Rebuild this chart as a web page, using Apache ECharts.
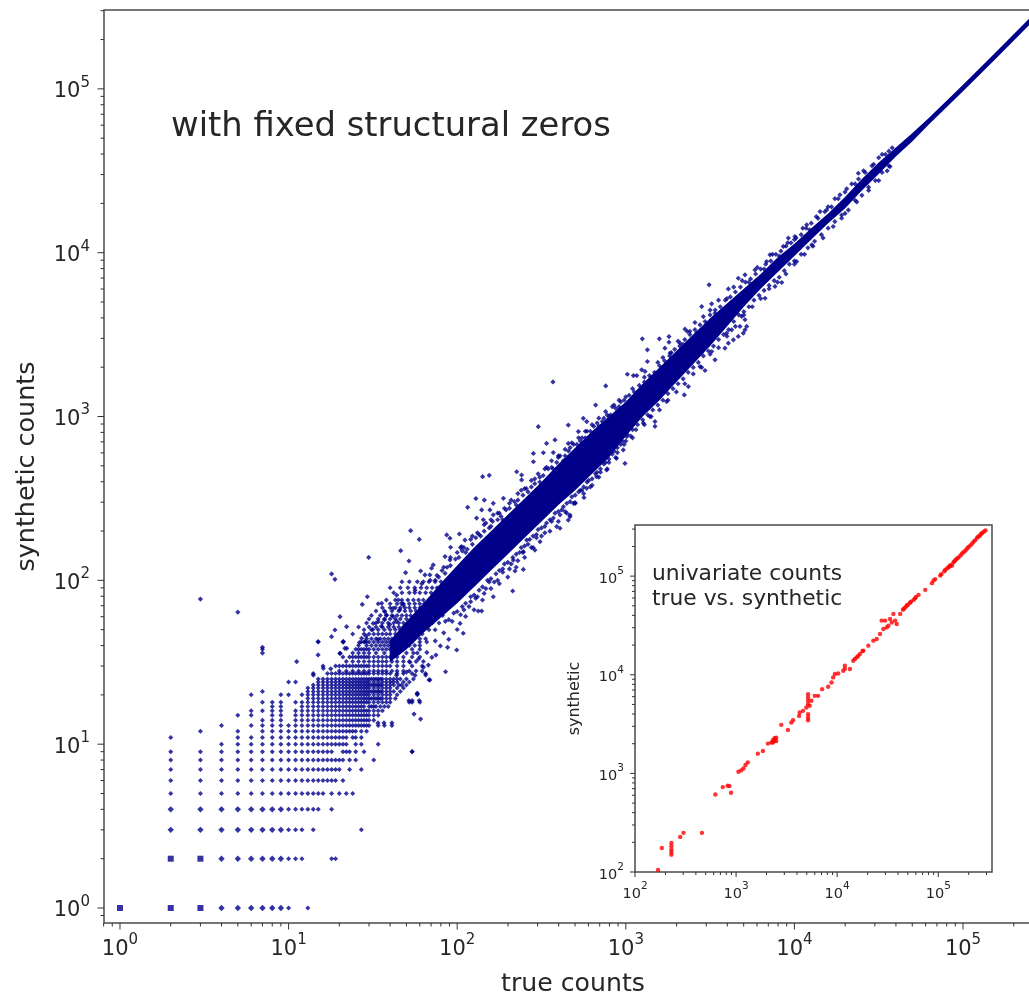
<!DOCTYPE html>
<html><head><meta charset="utf-8">
<script src="https://cdn.jsdelivr.net/npm/echarts@6/dist/echarts.min.js"></script>
<style>html,body{margin:0;padding:0;background:#fff;overflow:hidden}#c{width:1029px;height:1000px;filter:blur(0.42px)}</style>
</head><body><div id="c"></div>
<script>
// integer lattice of low counts: [synthetic count, [true counts]]
const heavyCells=[[1,1],[2,1],[3,1],[2,2],[3,2]];
const latticeRows=[
[1,[4,5,6,7,8,9,10,13]],
[2,[4,5,6,7,8,9,10,11,12,18,19]],
[3,[2,3,4,5,6,7,8,9,10,11,12,14,27]],
[4,[2,3,4,5,6,7,8,9,10,11,12,13,14,15,18]],
[5,[2,3,4,5,6,7,8,9,10,11,12,13,14,15,16,18,20,22,24]],
[6,[2,3,4,5,6,7,8,9,10,11,12,13,14,15,16,17,18,19,21]],
[7,[2,3,4,5,6,7,8,9,10,11,12,13,14,15,16,17,18,19,20,23,27]],
[8,[2,3,4,5,6,7,8,9,10,11,12,13,14,15,16,17,18,19,20,21,23,25,32]],
[9,[2,3,4,5,6,7,8,9,10,11,12,13,14,15,16,17,18,21,22,23,25,28,54]],
[10,[4,5,6,7,8,9,10,11,12,13,14,15,16,17,18,19,20,21,22,25,27,34]],
[11,[2,5,6,7,8,9,10,11,12,13,14,15,16,17,18,19,20,21,22,24,25,27]],
[12,[3,5,7,8,9,10,11,12,13,14,15,16,17,18,19,20,21,22,23,24,25,27,29]],
[13,[4,6,7,8,9,10,11,12,13,14,15,16,17,18,19,20,21,22,23,24,25,26,27,28,29,30,34,37,41]],
[14,[7,8,9,11,12,13,14,15,16,17,18,19,20,21,22,23,24,25,26,27,28,29,30,32]],
[15,[5,6,8,9,11,12,13,14,15,16,17,18,19,20,21,22,23,24,25,26,27,28,29,30,32,34]],
[16,[6,7,8,9,11,12,13,14,15,16,17,18,19,20,21,22,23,24,25,26,27,28,29,30,32,34,36]],
[17,[8,9,12,13,14,15,16,17,18,19,20,21,22,23,24,25,26,27,28,30,31,32,33,35,37,39]],
[18,[7,8,9,11,12,13,14,15,16,17,18,19,20,21,22,23,24,25,26,27,28,29,30,32,34,36,38,40,52,54,60]],
[19,[13,14,15,16,17,18,19,20,21,22,23,24,25,26,27,28,29,30,31,32,33,34,35,36,38,40,43]],
[20,[6,9,10,12,13,14,15,16,17,18,19,20,21,22,23,24,25,26,27,28,29,30,32,34,36,38,40,44,58]],
[21,[7,13,14,15,16,17,18,19,20,21,22,23,24,25,26,27,28,29,30,31,32,33,34,35,36,38,40,42,46]],
[22,[13,14,15,16,17,18,19,20,21,22,23,24,25,26,27,28,29,30,32,34,36,38,40,44,48]],
[23,[14,15,16,17,18,19,20,21,22,23,24,25,26,27,28,29,30,31,32,33,34,35,36,38,40,42,45,50]],
[24,[10,11,15,16,17,18,19,20,21,22,23,24,25,26,27,28,29,30,32,34,36,38,40,44,48,52]],
[25,[15,16,17,18,19,20,21,22,23,24,25,26,27,28,29,30,31,32,33,34,35,36,38,40,42,44,46,50,55]],
[27,[14,17,18,19,20,21,22,23,24,25,26,27,28,29,30,32,34,36,38,40,44,48,54,65]],
[28,[20,22,24,26,28,30,32,34,36,38,41,44,48,52,57,62]],
[30,[16,19,20,21,22,23,24,25,26,27,28,29,30,32,34,36,38,40,44,48,54,62]],
[32,[22,24,26,28,30,32,34,36,38,41,44,48,52,57,63]],
[34,[21,23,24,25,26,27,28,29,30,32,34,36,38,40,44,48,54,60]],
[36,[24,26,28,30,33,37,41,45,50,55,58]],
[38,[7,25,26,27,28,29,30,32,34,36,38,40,44,48,54,60]],
[40,[26,29,31,33,35,37,39,41,43,46,49,52,56,60]],
[42,[15,21,27,28,29,30,32,34,36,38,40,44,48,54,60,66]],
[44,[29,31,33,35,37,39,41,43,46,49,52,56,60,65]],
[47,[24,28,30,32,34,36,38,40,43,46,50,54,58,62]],
[50,[28,31,34,37,40,43,46,49,52,55,59,63,68,74]],
[52,[26,30,33,36,39,42,45,48,52,56,60,65]],
[55,[29,33,36,39,42,45,48,51,54,58,62,66,71,78]],
[58,[30,34,37,40,43,46,50,54,58,63,68]],
[61,[31,35,38,41,44,47,50,53,57,61,65,70,75,82]],
[65,[33,37,41,45,49,53,57,62,67,72]],
[68,[36,40,43,46,49,52,56,60,64,69,74,80,87]],
[72,[34,40,44,48,52,56,60,64,69,74,79,85]],
[76,[38,43,47,51,55,59,63,68,73,78,84,91]],
[84,[42,47,52,56,60,65,70,75,80,86,92,100]],
[90,[40,46,51,56,61,66,71,76,82,88,95,103]],
[98,[47,52,58,63,68,74,80,86,92,100,108]]
];
// solid core of the band, log10 values: true, upper synthetic, lower synthetic
const coreTrue=[1.6,1.7,1.8,1.9,2.0,2.1,2.2,2.3,2.4,2.5,2.6,2.7,2.8,2.9,3.0,3.1,3.2,3.3,3.4,3.5,3.6,3.7,3.8,3.9,4.0,4.1,4.2,4.3,4.4,4.5,4.6,4.7,4.8,5.0,5.2,5.47];
const coreHigh=[1.63,1.75,1.86,1.98,2.09,2.2,2.3,2.4,2.5,2.6,2.71,2.81,2.91,3.0,3.09,3.2,3.3,3.4,3.5,3.6,3.69,3.78,3.87,3.97,4.055,4.15,4.24,4.34,4.45,4.55,4.64,4.73,4.825,5.025,5.23,5.51];
const coreLow=[1.5,1.58,1.68,1.77,1.86,1.96,2.06,2.16,2.26,2.36,2.46,2.55,2.65,2.75,2.88,3.0,3.1,3.21,3.32,3.43,3.55,3.67,3.78,3.88,3.98,4.08,4.18,4.27,4.38,4.48,4.585,4.68,4.785,4.985,5.19,5.47];
// scattered points around the core, log10 [true, synthetic]
const scatterUpper=[[0.477,1.886],[0.699,1.806],[0.845,1.591],[0.845,1.556],[1.048,1.504],[1.175,1.626],[1.175,1.545],[1.325,1.626],[1.305,1.555],[1.345,1.585],[1.147,1.422],[1.206,1.463],[1.25,1.46],
[2.481,2.938],[2.659,2.948],[2.821,3.07],[2.748,2.989],[2.768,2.969],[2.719,2.908],[2.58,2.857],[2.53,2.836],[2.659,2.836],[2.452,2.775],[2.511,2.779],[2.57,2.78],[2.452,2.724],[2.353,2.663],[2.382,2.643],[2.382,2.613],[2.19,2.641],[2.151,2.633],[2.111,2.499],[2.161,2.49],[2.062,2.446],[2.214,2.47],[2.274,2.501],[2.145,2.43],[2.194,2.43],[2.115,2.38],[2.155,2.37],[2.214,2.4],[1.938,2.277],[1.957,2.257],[2.013,2.283],[2.046,2.246],[1.961,2.202],[2.026,2.206],[1.724,2.303],[1.775,2.25],[1.665,2.181],[1.475,2.14],[1.714,2.118],[1.694,2.047],[1.783,2.057],[1.858,2.094],[1.848,2.074],[1.809,2.033],[1.838,2.033],[1.928,2.145],[1.957,2.125],[1.928,2.043],[1.255,2.039],[1.275,2.006],[1.467,1.90],[1.437,1.853],[1.552,1.86],[1.641,1.91],[1.651,1.88],[1.67,1.86],[1.305,1.778],[1.275,1.697],[1.344,1.717],[1.255,1.656],[1.324,1.625],[1.305,1.554],[1.334,1.585],[1.433,1.646],[1.453,1.626],[1.502,1.737],[1.532,1.748],[1.571,1.808],[1.581,1.788],[1.62,1.829],[2.568,3.211],
[1.42,1.62],[1.46,1.66],[1.50,1.70],[1.53,1.64],[1.55,1.72],[1.57,1.76],[1.6,1.73],[1.62,1.78],[1.64,1.75],[1.66,1.82],[1.68,1.85],[1.75,1.94],[1.79,1.98],[1.84,2.0],[1.88,2.03],[1.92,2.08],[1.96,2.14],[2.0,2.17],[2.04,2.2],[2.08,2.25],[2.12,2.29],[2.16,2.34],[2.2,2.37],[2.24,2.41],[2.28,2.44],[2.32,2.49],[2.36,2.53],[2.4,2.56],[2.44,2.61],[2.48,2.65],[2.52,2.68],[2.56,2.73],[2.6,2.76],[2.64,2.8],[2.68,2.84],[2.72,2.87],[2.76,2.91],[2.8,2.95],[2.84,2.99],[2.88,3.03],[2.92,3.06],[2.96,3.1],
[3.494,3.804],[3.45,3.671],[3.098,3.474],[3.199,3.474],[3.256,3.488],[3.256,3.454],[3.128,3.407],[2.881,3.187],[3.128,3.336],[3.009,3.258],[3.045,3.25],[3.065,3.25],[3.094,3.285],[3.114,3.275],[3.232,3.417],[3.262,3.387],[3.351,3.533],[3.41,3.574],[3.365,3.519],[3.322,3.448],[3.509,3.688],[3.529,3.63],[3.608,3.779],[3.667,3.844],[3.707,3.865],[3.766,3.895],[3.855,3.987],[3.835,3.946],[3.934,4.038],[3.964,4.089],[4.003,4.099],[4.073,4.17],[4.152,4.251],[4.191,4.261],[4.27,4.353],[4.379,4.485]];
const edgeUpper=[[1.87,2.0],[1.89,2.02],[1.91,2.06],[1.94,2.08],[1.96,2.09],[1.99,2.13],[2.01,2.14],[2.03,2.18],[2.06,2.19],[2.09,2.22],[2.11,2.26],[2.14,2.27],[2.16,2.3],[2.19,2.32],[2.21,2.36],[2.24,2.37],[2.26,2.39],[2.29,2.43],[2.31,2.44],[2.34,2.48],[2.36,2.49],[2.39,2.52],[2.41,2.56],[2.44,2.57],[2.46,2.59],[2.49,2.63],[2.51,2.64],[2.54,2.68],[2.56,2.69],[2.59,2.72],[2.61,2.76],[2.64,2.76],[2.66,2.79],[2.69,2.83],[2.71,2.83],[2.74,2.87],[2.76,2.87],[2.79,2.91],[2.81,2.94],[2.84,2.94],[2.86,2.97],[2.89,3.01],[2.91,3.01],[2.94,3.05],[2.96,3.06],[2.99,3.1],[3.02,3.13],[3.05,3.15],[3.08,3.19],[3.11,3.21],[3.14,3.25],[3.17,3.27],[3.2,3.31],[3.23,3.34],[3.26,3.37],[3.29,3.41],[3.32,3.43],[3.35,3.47],[3.38,3.5],[3.41,3.53],[3.44,3.56],[3.47,3.58],[3.5,3.62],[3.53,3.65],[3.56,3.67],[3.59,3.71],[3.62,3.73],[3.65,3.76],[3.68,3.79],[3.71,3.82],[3.74,3.84],[3.77,3.87],[3.8,3.9],[3.83,3.93],[3.86,3.95],[3.89,3.99],[3.92,4.01],[3.95,4.04],[3.98,4.06],[4.01,4.09],[4.04,4.11],[4.07,4.15],[4.1,4.18],[4.14,4.21],[4.18,4.25],[4.22,4.28],[4.26,4.33],[4.3,4.37],[4.34,4.42],[4.38,4.45],[4.42,4.49],[4.46,4.53],[4.5,4.58],[4.54,4.6],[4.58,4.64]];
const ringUpper=[[2.02,2.2],[2.05,2.17],[2.09,2.27],[2.13,2.28],[2.17,2.35],[2.2,2.33],[2.25,2.41],[2.27,2.37],[2.31,2.47],[2.35,2.46],[2.38,2.55],[2.42,2.54],[2.46,2.62],[2.49,2.6],[2.53,2.69],[2.57,2.68],[2.6,2.75],[2.63,2.73],[2.67,2.81],[2.7,2.79],[2.73,2.85],[2.77,2.91],[2.8,2.89],[2.83,2.96],[2.87,2.99],[2.9,3.0],[2.93,3.07],[2.97,3.09],[3.0,3.12],[3.04,3.17],[3.07,3.15],[3.11,3.24],[3.15,3.24],[3.19,3.33],[3.22,3.36],[3.27,3.39],[3.31,3.46],[3.34,3.44],[3.38,3.52],[3.42,3.51],[3.46,3.61],[3.5,3.65],[3.55,3.71],[3.6,3.72],[3.64,3.79],[3.69,3.83],[3.73,3.82],[3.78,3.91],[3.82,3.9],[3.87,3.99],[3.91,3.98],[3.96,4.06],[4.0,4.08],[4.05,4.15],[4.09,4.14],[4.13,4.22],[4.2,4.28],[4.24,4.33],[4.31,4.39],[4.36,4.42],[4.41,4.5],[4.47,4.54],[4.52,4.6],[4.56,4.62]];
const edgeLower=[[1.93,1.75],[1.95,1.76],[1.98,1.8],[2.0,1.81],[2.03,1.84],[2.05,1.86],[2.08,1.9],[2.1,1.91],[2.13,1.94],[2.15,1.96],[2.18,2.0],[2.2,2.01],[2.23,2.04],[2.25,2.06],[2.28,2.1],[2.3,2.11],[2.33,2.14],[2.35,2.16],[2.38,2.2],[2.4,2.21],[2.43,2.25],[2.45,2.27],[2.48,2.31],[2.5,2.32],[2.53,2.35],[2.55,2.37],[2.58,2.41],[2.6,2.42],[2.63,2.45],[2.65,2.47],[2.68,2.51],[2.7,2.52],[2.73,2.55],[2.75,2.57],[2.78,2.61],[2.8,2.62],[2.83,2.66],[2.85,2.68],[2.88,2.72],[2.9,2.74],[2.93,2.79],[2.95,2.81],[2.98,2.85],[3.01,2.89],[3.04,2.92],[3.07,2.95],[3.1,2.98],[3.13,3.01],[3.16,3.04],[3.19,3.07],[3.22,3.1],[3.25,3.14],[3.28,3.17],[3.31,3.2],[3.34,3.23],[3.37,3.27],[3.4,3.3],[3.43,3.33],[3.46,3.37],[3.49,3.4],[3.52,3.43],[3.55,3.47],[3.58,3.5],[3.61,3.53],[3.64,3.58],[3.67,3.62],[3.7,3.64],[3.73,3.67],[3.76,3.71],[3.79,3.74],[3.82,3.77],[3.85,3.8],[3.88,3.83],[3.91,3.85],[3.94,3.89],[3.97,3.93],[4.0,3.95],[4.04,3.99],[4.08,4.03],[4.12,4.07],[4.16,4.11],[4.2,4.15],[4.24,4.19],[4.28,4.23],[4.32,4.26],[4.36,4.32],[4.4,4.35],[4.44,4.4],[4.48,4.44],[4.52,4.49],[4.56,4.53]];
const ringLower=[[2.04,1.82],[2.08,1.87],[2.11,1.89],[2.16,1.92],[2.19,1.99],[2.24,2.0],[2.27,2.07],[2.31,2.07],[2.36,2.12],[2.39,2.17],[2.44,2.2],[2.47,2.26],[2.52,2.29],[2.56,2.36],[2.61,2.4],[2.64,2.42],[2.69,2.47],[2.74,2.55],[2.79,2.57],[2.84,2.63],[2.89,2.68],[2.94,2.75],[2.99,2.83],[3.03,2.88],[3.06,2.92],[3.11,2.95],[3.15,3.0],[3.2,3.04],[3.25,3.1],[3.3,3.15],[3.35,3.2],[3.4,3.26],[3.45,3.3],[3.5,3.38],[3.55,3.42],[3.6,3.49],[3.65,3.55],[3.7,3.62],[3.75,3.67],[3.8,3.72],[3.85,3.78],[3.9,3.82],[3.95,3.87],[4.0,3.93],[4.06,3.99],[4.11,4.04],[4.17,4.09],[4.23,4.16],[4.3,4.24],[4.37,4.31],[4.44,4.38],[4.5,4.44],[4.55,4.5]];
const scatterLower=[[1.733,0.955],[1.783,1.153],[1.744,1.184],[1.714,1.266],[1.733,1.266],[1.775,1.266],[1.763,1.31],[1.53,1.13],[1.566,1.13],[1.613,1.13],[1.833,1.392],[1.813,1.422],
[2.329,1.935],[2.392,2.067],[2.343,2.057],[2.214,1.90],[2.125,1.813],[2.145,1.813],[2.017,1.737],[2.036,1.677],[1.997,1.575],[1.943,1.591],[1.931,1.442],[1.874,1.544],[1.829,1.483],[1.838,1.392],[1.763,1.31],[2.59,2.328],[2.61,2.318],[2.669,2.389],[2.659,2.368],[2.461,2.185],[2.491,2.236],[2.392,2.175],[2.412,2.246],[2.333,2.124],[2.768,2.562],[2.752,2.505],[2.699,2.474],[2.669,2.399],[2.945,2.745],[2.995,2.714],[2.985,2.796],[3.005,2.877],[2.827,2.633],[2.886,2.674],
[1.62,1.38],[1.64,1.42],[1.67,1.36],[1.7,1.44],[1.72,1.5],[1.75,1.42],[1.77,1.52],[1.8,1.47],[1.82,1.56],[1.85,1.53],[1.87,1.63],[1.9,1.6],[1.92,1.68],[1.95,1.64],[1.97,1.75],[2.0,1.7],[2.02,1.79],[2.05,1.78],[2.07,1.84],[2.1,1.82],[2.12,1.9],[2.15,1.88],[2.17,1.95],[2.2,1.95],[2.22,1.99],[2.25,1.98],[2.27,2.05],[2.3,2.02],[2.32,2.1],[2.35,2.08],[2.37,2.17],[2.4,2.14],[2.42,2.22],[2.45,2.2],[2.47,2.28],[2.5,2.27],[2.52,2.33],[2.55,2.3],[2.57,2.38],[2.6,2.36],[2.62,2.43],[2.65,2.41],[2.67,2.48],[2.7,2.47],[2.72,2.54],[2.75,2.53],[2.77,2.6],[2.8,2.58],[2.82,2.65],[2.85,2.66],[2.87,2.71],[2.9,2.72],[2.92,2.77],[2.95,2.78],[2.97,2.83],[3.0,2.85],
[3.371,3.183],[3.347,3.132],[3.242,3.091],[3.173,2.969],[3.529,3.346],[3.47,3.281],[3.44,3.305],[3.51,3.397],[3.826,3.722],[3.885,3.794],[3.925,3.818],[4.28,4.211],[4.103,4.048],[4.013,3.946],[4.567,4.526],[3.173,2.94],[3.143,3.0],[3.104,2.96],[3.04,2.87],
[3.717,3.55],[3.697,3.509],[3.667,3.489],[3.638,3.468],[3.608,3.448],[3.588,3.417],[3.598,3.509],[3.628,3.529],[3.677,3.55],[3.707,3.591],[3.687,3.611],[3.707,3.529]];
// inset: log10 [true, synthetic]
const insetPoints=[[2.228,2.02],[2.265,2.244],[2.36,2.295],[2.36,2.261],[2.36,2.227],[2.36,2.203],[2.36,2.176],[2.447,2.356],[2.48,2.397],[2.662,2.397],[2.795,2.786],[2.868,2.861],[2.917,2.875],[2.934,2.871],[2.95,2.803],[3.023,3.017],[3.05,3.03],[3.073,3.05],[3.093,3.085],[3.116,3.112],[3.215,3.2],[3.265,3.227],[3.315,3.302],[3.348,3.312],[3.364,3.336],[3.38,3.356],[3.397,3.363],[3.364,3.312],[3.397,3.329],[3.38,3.329],[3.447,3.492],[3.513,3.441],[3.546,3.515],[3.563,3.539],[3.623,3.583],[3.629,3.617],[3.662,3.634],[3.695,3.668],[3.712,3.803],[3.712,3.769],[3.712,3.736],[3.712,3.702],[3.728,3.685],[3.745,3.736],[3.712,3.6],[3.712,3.566],[3.712,3.539],[3.778,3.786],[3.811,3.786],[3.851,3.854],[3.911,3.878],[3.944,3.922],[3.96,3.973],[3.977,4.007],[4.01,4.014],[4.06,4.041],[4.076,4.092],[4.126,4.058],[4.076,4.06],[4.159,4.142],[4.192,4.176],[4.225,4.21],[4.258,4.244],[4.175,4.16],[4.208,4.19],[4.308,4.295],[4.358,4.346],[4.391,4.363],[4.424,4.414],[4.457,4.464],[4.507,4.498],[4.44,4.549],[4.474,4.549],[4.556,4.617],[4.523,4.566],[4.589,4.515],[4.573,4.549],[4.623,4.617],[4.49,4.48],[4.54,4.53],[4.65,4.66],[4.689,4.702],[4.72,4.73],[4.755,4.759],[4.78,4.79],[4.805,4.81],[4.871,4.861],[4.937,4.929],[4.954,4.956],[5.02,5.007],[5.06,5.05],[5.09,5.08],[5.103,5.092],[5.115,5.1],[5.136,5.108],[5.16,5.15],[5.185,5.176],[5.22,5.21],[5.252,5.244],[5.285,5.28],[5.318,5.312],[5.35,5.35],[5.384,5.39],[5.41,5.41],[5.434,5.437],[5.467,5.464],[5.03,5.02],[5.07,5.065],[5.12,5.11],[5.15,5.14],[5.17,5.165],[5.2,5.19],[5.235,5.23],[5.27,5.26],[5.3,5.295],[5.335,5.33],[5.365,5.365],[5.395,5.4],[5.42,5.425],[5.45,5.45],[4.66,4.67],[4.675,4.685],[4.7,4.71],[4.73,4.74],[4.77,4.775],[4.97,4.97],[4.25,4.24]];
const mainTickExponents=[0,1,2,3,4,5];
const insetTickExponents=[2,3,4,5];
const minorMultipliers=[2,3,4,5,6,7,8,9];
const title='with fixed structural zeros';
const insetTitle='univariate counts\ntrue vs. synthetic';
const NAVY='#00008b',RED='#ff0000',INK='#333333',SPINE='#4a4a4a';

const fromLog=a=>a.map(p=>[Math.pow(10,p[0]),Math.pow(10,p[1])]);
const latticePts=[];latticeRows.forEach(r=>r[1].forEach(x=>latticePts.push([x,r[0]])));

function labelFmt(v){const e=Math.round(Math.log10(v));if(Math.abs(Math.pow(10,e)-v)>1e-6*v)return '';return '{b|10}{s|'+e+'}';}
function axis(gridIndex,min,max,fs,sup,margin,name,nameFs,gap,z){
 return {type:'log',logBase:10,gridIndex,min,max,z,
  axisLine:{show:false},axisTick:{show:false},splitLine:{show:false},minorTick:{show:false},minorSplitLine:{show:false},
  axisLabel:{show:true,margin,color:'#262626',formatter:labelFmt,hideOverlap:false,showMinLabel:true,showMaxLabel:false,
   rich:{b:{fontFamily:'DejaVu Sans',fontSize:fs,color:'#262626',verticalAlign:'bottom',lineHeight:fs+6},
         s:{fontFamily:'DejaVu Sans',fontSize:sup,color:'#262626',verticalAlign:'top',lineHeight:fs+6}}},
  name,nameLocation:'middle',nameGap:gap,nameTextStyle:{fontFamily:'DejaVu Sans',fontSize:nameFs,color:'#262626'}};
}
function ticks(gi,xExps,yExps,xmin,ymin,maj,mnr,z){
 const ts=[];
 const add=(e,isX)=>{ts.push([Math.pow(10,e),isX,maj]);minorMultipliers.forEach(m=>ts.push([m*Math.pow(10,e),isX,mnr]));};
 [xExps[0]-1,...xExps].forEach(e=>add(e,true));
 [yExps[0]-1,...yExps].forEach(e=>add(e,false));
 return {type:'custom',xAxisIndex:gi,yAxisIndex:gi,silent:true,clip:false,z,data:[0],
  renderItem(p,api){
   const ch=[];const g=p.coordSys;
   ts.forEach(t=>{
    const c=t[1]?api.coord([t[0],ymin]):api.coord([xmin,t[0]]);
    const pos=t[1]?c[0]:c[1];
    if(t[1]){ if(pos<g.x-0.5||pos>g.x+g.width+0.5)return; ch.push({type:'line',shape:{x1:pos,y1:g.y+g.height,x2:pos,y2:g.y+g.height+t[2]},style:{stroke:INK,lineWidth:1}});}
    else { if(pos<g.y-0.5||pos>g.y+g.height+0.5)return; ch.push({type:'line',shape:{x1:g.x,y1:pos,x2:g.x-t[2],y2:pos},style:{stroke:INK,lineWidth:1}});}
   });
   return {type:'group',children:ch};
  }};
}
const scatterBase={type:'scatter',xAxisIndex:0,yAxisIndex:0,symbol:'diamond',symbolSize:5.2,itemStyle:{color:NAVY},silent:true,animation:false,large:false,z:4};
const option={animation:false,backgroundColor:'#fff',
 title:[{text:title,left:171,top:110,padding:0,textStyle:{fontFamily:'DejaVu Sans',fontSize:33.8,fontWeight:'normal',color:'#262626'}},
        {text:insetTitle,left:652,top:562,padding:0,z:20,textStyle:{fontFamily:'DejaVu Sans',fontSize:21.8,fontWeight:'normal',color:'#262626',lineHeight:25}}],
 grid:[{left:104,top:10,width:938,height:913,outerBoundsMode:'none',show:true,borderColor:SPINE,borderWidth:1.5,backgroundColor:'#fff',z:1},
       {left:635,top:525,width:357,height:347,outerBoundsMode:'none',show:true,borderColor:SPINE,borderWidth:1.5,backgroundColor:'#fff',z:10}],
 xAxis:[axis(0,0.804,2.94e5,21,15,10,'true counts',25.2,49,2),axis(1,100,3.4e5,14.5,10.5,9,'',12,20,11)],
 yAxis:[axis(0,0.81,3.03e5,21,15,14,'synthetic counts',25.4,64,2),axis(1,100,3.3e5,14.5,10.5,11,'synthetic',16,52,11)],
 series:[
  ticks(0,mainTickExponents,mainTickExponents,0.804,0.81,6.5,3.5,5),
  ticks(1,insetTickExponents,insetTickExponents,100,100,5,3,12),
  {type:'custom',xAxisIndex:0,yAxisIndex:0,silent:true,data:[0],z:3,renderItem(p,api){
    const pts=[];
    coreTrue.forEach((x,i)=>pts.push(api.coord([Math.pow(10,x),Math.pow(10,coreHigh[i])])));
    for(let i=coreTrue.length-1;i>=0;i--)pts.push(api.coord([Math.pow(10,coreTrue[i]),Math.pow(10,coreLow[i])]));
    return {type:'polygon',shape:{points:pts},style:{fill:NAVY},clipPath:{type:'rect',shape:{x:p.coordSys.x,y:p.coordSys.y,width:p.coordSys.width,height:p.coordSys.height}}};
  }},
  Object.assign({},scatterBase,{data:heavyCells,symbol:'rect',symbolSize:6}),
  Object.assign({},scatterBase,{data:latticePts,symbolSize:v=>(v[0]<=9&&v[1]<=4)?6.4:5}),
  Object.assign({},scatterBase,{data:fromLog(scatterUpper)}),
  Object.assign({},scatterBase,{data:fromLog(edgeUpper)}),
  Object.assign({},scatterBase,{data:fromLog(ringUpper)}),
  Object.assign({},scatterBase,{data:fromLog(edgeLower)}),
  Object.assign({},scatterBase,{data:fromLog(ringLower)}),
  Object.assign({},scatterBase,{data:fromLog(scatterLower)}),
  {type:'scatter',xAxisIndex:1,yAxisIndex:1,z:12,symbol:'circle',symbolSize:4.4,itemStyle:{color:RED},silent:true,data:fromLog(insetPoints)}
 ]};
echarts.init(document.getElementById('c')).setOption(option);
</script></body></html>
